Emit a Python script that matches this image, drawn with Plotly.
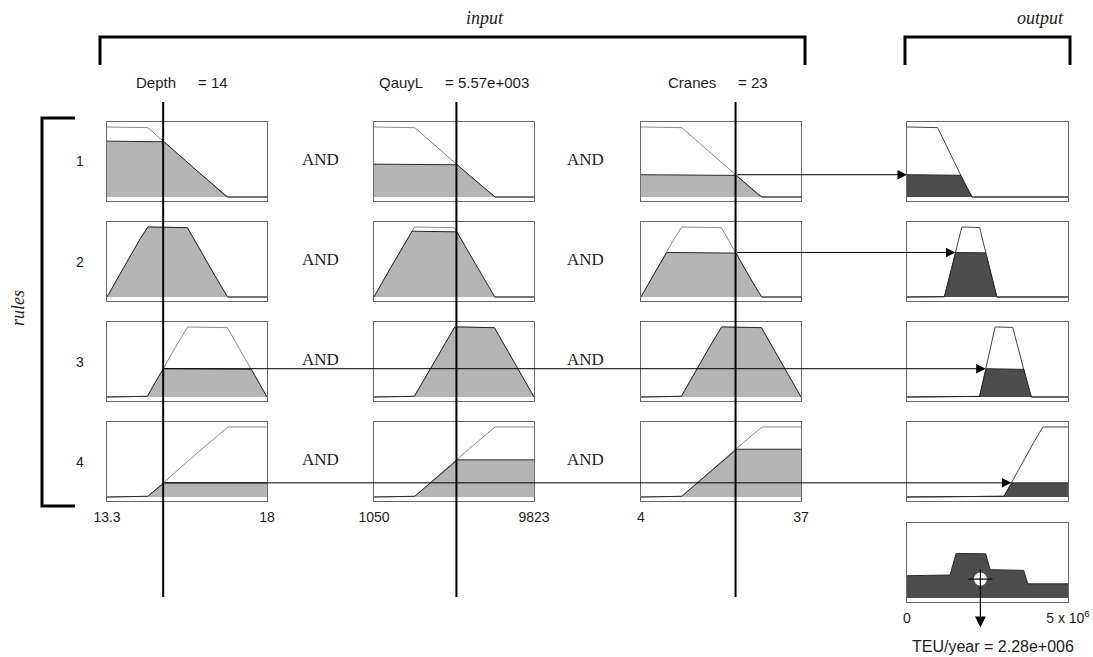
import numpy as np
import plotly.graph_objects as go

# ---------------- data ----------------
input_names = ["Depth", "QauyL", "Cranes"]
input_value_labels = ["= 14", "= 5.57e+003", "= 23"]
input_ranges = [[13.3, 18.0], [1050.0, 9823.0], [4.0, 37.0]]
input_tick_text = [["13.3", "18"], ["1050", "9823"], ["4", "37"]]
input_values = [14.95, 5570.0, 23.5]          # positions of the vertical input lines

# trapezoid break points (a, b, c, d) for rules 1..4
depth_mfs = [[13.3, 13.3, 14.475, 16.825],
             [13.3, 14.475, 15.65, 16.825],
             [14.475, 15.65, 16.825, 18.0],
             [14.475, 16.825, 18.0, 18.0]]
qauyl_mfs = [[1050.0, 1050.0, 3243.0, 7630.0],
             [1050.0, 3243.0, 5437.0, 7630.0],
             [3243.0, 5437.0, 7630.0, 9823.0],
             [3243.0, 7630.0, 9823.0, 9823.0]]
cranes_mfs = [[4.0, 4.0, 12.25, 28.75],
              [4.0, 12.25, 20.5, 28.75],
              [12.25, 20.5, 28.75, 37.0],
              [12.25, 28.75, 37.0, 37.0]]
input_mfs = [depth_mfs, qauyl_mfs, cranes_mfs]

output_label = "TEU/year = 2.28e+006"
output_range = [0.0, 5.0e6]
output_tick_text = ["0", "5 x 10<sup>6</sup>"]
output_mfs = [[0.0, 0.0, 0.94e6, 2.0e6],
              [1.16e6, 1.70e6, 2.25e6, 2.78e6],
              [2.25e6, 2.73e6, 3.28e6, 3.85e6],
              [3.0e6, 4.2e6, 5.0e6, 5.0e6]]
output_value = 2.28e6
rule_labels = ["1", "2", "3", "4"]

# ---------------- style / layout ----------------
W, H = 1093, 657
col_px = [(107, 267), (374, 534), (641, 801), (907, 1068)]
row_px = [(122, 201), (222, 301), (322, 401), (422, 501), (523, 602)]
Y_RANGE = [-0.057, 1.071]
BOX = "#6a6a6a"
MF_LINE_IN = "#8a8a8a"
MF_LINE_OUT = "#454545"
EDGE = "#2a2a2a"
LIGHT = "#b4b4b4"
DARK = "#4d4d4d"
TXT = "#1e1e1e"
SANS = "Liberation Sans, Arial, sans-serif"
SERIF = "Liberation Serif, Times New Roman, serif"
CENTROID_Y = 0.27
CENTROID_TOP = 0.43
CENTROID_TIP = -0.42


def trap(x, p):
    a, b, c, d = p
    x = np.asarray(x, dtype=float)
    y = np.ones_like(x)
    if b > a:
        y = np.where(x < b, (x - a) / (b - a), y)
    if d > c:
        y = np.where(x > c, (d - x) / (d - c), y)
    return np.clip(y, 0.0, 1.0)


def grid(xr, pts):
    g = np.linspace(xr[0], xr[1], 1201)
    return np.unique(np.concatenate([g, np.clip(np.asarray(pts, float), xr[0], xr[1])]))


def cut_points(p, w):
    a, b, c, d = p
    return [a, b, c, d, a + w * (b - a), d - w * (d - c)]


def ax_id(k, letter):
    return letter if k == 1 else f"{letter}{k}"


def ax_key(k, letter):
    return f"{letter}axis" if k == 1 else f"{letter}axis{k}"


def col_of(c):
    return input_ranges[c] if c < 3 else output_range


def to_paper(v, c):
    l, r = col_px[c]
    x0, x1 = col_of(c)
    return (l + (v - x0) / (x1 - x0) * (r - l)) / W


def paper_to(p, c):
    l, r = col_px[c]
    x0, x1 = col_of(c)
    return x0 + (p * W - l) / (r - l) * (x1 - x0)


fig = go.Figure()
layout = dict(width=W, height=H, margin=dict(l=0, r=0, t=0, b=0, autoexpand=False),
              paper_bgcolor="white", plot_bgcolor="white", showlegend=False)


def make_axes(k, c, r, xr, ticktext=None):
    l, rr = col_px[c]
    t, b = row_px[r]
    xa = dict(domain=[l / W, rr / W], range=xr, anchor=ax_id(k, "y"), showline=True, mirror=True,
              linecolor=BOX, linewidth=1, showgrid=False, zeroline=False, ticks="", fixedrange=True,
              automargin=False)
    if ticktext:
        xa.update(tickvals=xr, ticktext=ticktext, showticklabels=True,
                  tickfont=dict(family=SANS, size=14, color=TXT), ticklabelstandoff=3)
    else:
        xa.update(showticklabels=False)
    ya = dict(domain=[1 - b / H, 1 - t / H], range=Y_RANGE, anchor=ax_id(k, "x"), showline=True,
              mirror=True, linecolor=BOX, linewidth=1, showgrid=False, zeroline=False,
              showticklabels=False, ticks="", fixedrange=True, automargin=False)
    layout[ax_key(k, "x")] = xa
    layout[ax_key(k, "y")] = ya


def add_mf(k, xr, p, clip, fillcolor, mfcolor):
    xs = grid(xr, cut_points(p, clip))
    ymf = trap(xs, p)
    ycl = np.minimum(ymf, clip)
    fig.add_trace(go.Scatter(x=xs, y=ymf, mode="lines", line=dict(color=mfcolor, width=1),
                             xaxis=ax_id(k, "x"), yaxis=ax_id(k, "y"), hoverinfo="skip"))
    fig.add_trace(go.Scatter(x=xs, y=ycl, mode="lines", fill="tozeroy", fillcolor=fillcolor,
                             line=dict(color=EDGE, width=1),
                             xaxis=ax_id(k, "x"), yaxis=ax_id(k, "y"), hoverinfo="skip"))


def label(xp, yp, text, family=SANS, size=15, **kw):
    d = dict(x=xp / W, y=1 - yp / H, xref="paper", yref="paper", text=text, showarrow=False,
             xanchor="center", yanchor="middle", font=dict(family=family, size=size, color=TXT))
    d.update(kw)
    return d


annotations = []
shapes = []
weights = []

for r in range(4):
    mus = [float(trap([input_values[c]], input_mfs[c][r])[0]) for c in range(3)]
    w = min(mus)
    weights.append(w)
    for c in range(3):
        k = r * 4 + c + 1
        make_axes(k, c, r, input_ranges[c], input_tick_text[c] if r == 3 else None)
        add_mf(k, input_ranges[c], input_mfs[c][r], mus[c], LIGHT, MF_LINE_IN)
    k = r * 4 + 4
    make_axes(k, 3, r, output_range)
    add_mf(k, output_range, output_mfs[r], w, DARK, MF_LINE_OUT)

    # arrow from the limiting antecedent to the consequent
    cmin = int(np.argmin(mus))
    a, b, _, _ = output_mfs[r]
    x_head = a if b == a else a + w * (b - a)
    tail = paper_to(to_paper(input_values[cmin], cmin), 3)
    annotations.append(dict(x=x_head, y=w, xref=ax_id(k, "x"), yref=ax_id(k, "y"),
                            ax=tail, ay=w, axref=ax_id(k, "x"), ayref=ax_id(k, "y"),
                            text="", showarrow=True, arrowhead=2, arrowsize=1.9,
                            arrowwidth=1, arrowcolor="black", standoff=0))

    # row label and AND operators
    t, bb = row_px[r]
    yc = (t + bb) / 2
    annotations.append(label(80, yc, rule_labels[r], size=14))
    for xpx in (320, 585):
        annotations.append(label(xpx, yc - 2, "AND", family=SERIF, size=17))

# aggregate panel
k = 17
make_axes(k, 3, 4, output_range, output_tick_text)
pts = []
for r in range(4):
    pts += cut_points(output_mfs[r], weights[r])
xs = grid(output_range, pts)
agg = np.max([np.minimum(trap(xs, output_mfs[r]), weights[r]) for r in range(4)], axis=0)
fig.add_trace(go.Scatter(x=xs, y=agg, mode="lines", fill="tozeroy", fillcolor=DARK,
                         line=dict(color=EDGE, width=1), xaxis="x17", yaxis="y17", hoverinfo="skip"))
fig.add_trace(go.Scatter(x=[output_value], y=[CENTROID_Y], mode="markers",
                         marker=dict(symbol="circle", size=13, color="white", line=dict(width=0)),
                         xaxis="x17", yaxis="y17", hoverinfo="skip"))
half = 0.075 * (output_range[1] - output_range[0])
fig.add_trace(go.Scatter(x=[output_value - half, output_value + half], y=[CENTROID_Y, CENTROID_Y],
                         mode="lines", line=dict(color="black", width=1.2),
                         xaxis="x17", yaxis="y17", hoverinfo="skip"))
annotations.append(dict(x=output_value, y=CENTROID_TIP, xref="x17", yref="y17",
                        ax=output_value, ay=CENTROID_TOP, axref="x17", ayref="y17",
                        text="", showarrow=True, arrowhead=2, arrowsize=1.8, arrowwidth=1.2,
                        arrowcolor="black", standoff=0))
annotations.append(label(993, 646, output_label, size=16))

# vertical input lines
for c in range(3):
    shapes.append(dict(type="line", xref=ax_id(c + 1, "x"), yref="paper",
                       x0=input_values[c], x1=input_values[c], y0=1 - 102 / H, y1=1 - 597 / H,
                       line=dict(color="black", width=2)))

# column headers
head_px = [(134, 196), (377, 443), (666, 736)]
for c in range(3):
    annotations.append(label(head_px[c][0], 83, input_names[c], xanchor="left"))
    annotations.append(label(head_px[c][1], 83, input_value_labels[c], xanchor="left"))


# brackets and bracket titles
def P(xp, yp):
    return f"{xp / W:.5f},{1 - yp / H:.5f}"


shapes.append(dict(type="path", xref="paper", yref="paper",
                   path=f"M{P(100, 65)} L{P(100, 37)} L{P(805, 37)} L{P(805, 65)}",
                   line=dict(color="black", width=3)))
shapes.append(dict(type="path", xref="paper", yref="paper",
                   path=f"M{P(905, 65)} L{P(905, 37)} L{P(1070, 37)} L{P(1070, 65)}",
                   line=dict(color="black", width=3)))
shapes.append(dict(type="path", xref="paper", yref="paper",
                   path=f"M{P(75, 118)} L{P(42, 118)} L{P(42, 506)} L{P(75, 506)}",
                   line=dict(color="black", width=3)))
annotations.append(label(485, 18, "<i>input</i>", family=SERIF, size=18))
annotations.append(label(1040, 18, "<i>output</i>", family=SERIF, size=18))
annotations.append(label(18, 308, "<i>rules</i>", family=SERIF, size=18, textangle=-90))

layout["annotations"] = annotations
layout["shapes"] = shapes
fig.update_layout(**layout)

fig.write_html("out.html", config={"displayModeBar": False, "staticPlot": True},
               post_script="document.body.style.margin='0';document.body.style.overflow='hidden';")
